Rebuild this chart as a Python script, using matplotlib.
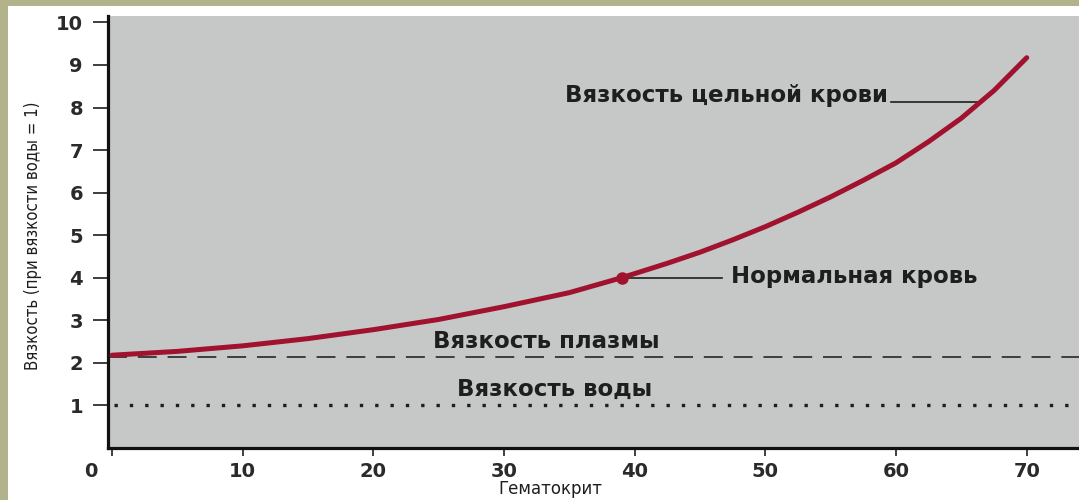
"""
Вязкость крови в зависимости от гематокрита (перерисовка скана).
"""
import matplotlib
matplotlib.use("Agg")
import matplotlib.pyplot as plt
from matplotlib.patches import Rectangle
from matplotlib.transforms import ScaledTranslation

# --- данные ---
hematocrit = [0, 5, 10, 15, 20, 25, 30, 35, 39, 42.5, 45, 47.5, 50, 52.5,
              55, 57.5, 60, 62.5, 65, 67.5, 70]
blood_visc = [2.18, 2.27, 2.4, 2.57, 2.78, 3.02, 3.32, 3.65, 4.0, 4.34, 4.6,
              4.89, 5.2, 5.54, 5.9, 6.29, 6.7, 7.2, 7.75, 8.4, 9.17]
normal_hct, normal_visc = 39, 4.0
plasma_visc = 2.14
water_visc = 1.0

x_ticks = [0, 10, 20, 30, 40, 50, 60, 70]
y_ticks = [1, 2, 3, 4, 5, 6, 7, 8, 9, 10]

RED = "#a0122e"
INK = "#1e1e1e"
FONT = "DejaVu Sans"

W, H = 1079, 500
fig = plt.figure(figsize=(W / 100, H / 100), dpi=100)
fig.patch.set_facecolor("white")

# оливковая рамка слайда (слева и сверху)
fig.patches.append(Rectangle((0, 0), 8 / W, 1, transform=fig.transFigure,
                             facecolor="#b3b38b", edgecolor="none", zorder=0))
fig.patches.append(Rectangle((0, 1 - 6 / H), 1, 6 / H, transform=fig.transFigure,
                             facecolor="#b3b38b", edgecolor="none", zorder=0))

ax = fig.add_axes([108 / W, 1 - 448 / H, (W - 108) / W, (448 - 16) / H])
ax.set_facecolor("#c6c8c8")
ax.set_xlim(-0.3, 74.0)
ax.set_ylim(0, 10.15)

for side in ("top", "right"):
    ax.spines[side].set_visible(False)
for side in ("left", "bottom"):
    ax.spines[side].set_linewidth(2.3)
    ax.spines[side].set_color("#111111")

ax.set_xticks(x_ticks)
ax.set_yticks(y_ticks)
ax.tick_params(axis="y", length=11, width=1.2, pad=7, labelsize=14, colors=INK)
ax.tick_params(axis="x", length=6, width=1.2, pad=4, labelsize=14, colors=INK)
for lab in ax.get_xticklabels() + ax.get_yticklabels():
    lab.set_fontweight("bold")
    lab.set_fontfamily(FONT)
    lab.set_color("#2a2a2a")
# "0" сдвинут влево от угла
first = ax.get_xticklabels()[0]
first.set_transform(first.get_transform() + ScaledTranslation(-21 / 100, 0, fig.dpi_scale_trans))

# линии воды и плазмы
ax.axhline(water_visc, xmin=0.006, color=INK, lw=2.4, dashes=(1.0, 3.6), zorder=2)
ax.axhline(plasma_visc, color="#333333", lw=1.3, dashes=(10.5, 6.0), zorder=2)

# кривая цельной крови
ax.plot(hematocrit, blood_visc, color=RED, lw=3.6, solid_capstyle="round",
        solid_joinstyle="round", zorder=4)
ax.plot([normal_hct], [normal_visc], "o", color=RED, ms=8, zorder=5)

# выноски
ax.plot([59.6, 66.6], [8.14, 8.14], color=INK, lw=1.2, zorder=3)
ax.plot([normal_hct, 46.7], [normal_visc, normal_visc], color=INK, lw=1.2, zorder=3)

txt = dict(fontsize=16.5, fontweight="bold", color=INK, family=FONT)
ax.text(59.4, 8.14, "Вязкость цельной крови", ha="right", va="baseline", **txt)
ax.text(47.4, 3.87, "Нормальная кровь", ha="left", va="baseline", **txt)
ax.text(24.6, 2.36, "Вязкость плазмы", ha="left", va="baseline", **txt)
ax.text(26.4, 1.235, "Вязкость воды", ha="left", va="baseline", **txt)

fig.text(33 / W, 1 - 236 / H, "Вязкость (при вязкости воды = 1)", rotation=90,
         ha="center", va="center", fontsize=12, color=INK, family=FONT,
         fontstretch="condensed")
fig.text(550 / W, 1 - 489 / H, "Гематокрит", ha="center", va="center",
         fontsize=12, color=INK, family=FONT)

fig.savefig("out.png", dpi=100, facecolor=fig.get_facecolor())
